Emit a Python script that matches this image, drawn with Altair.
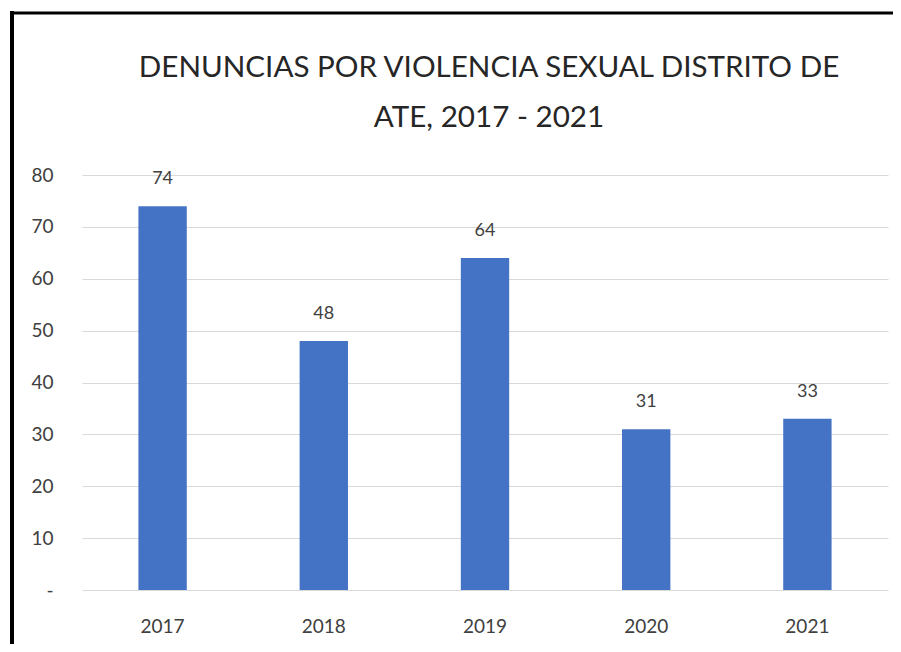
import altair as alt
import pandas as pd

# ---- data ----
years = ["2017", "2018", "2019", "2020", "2021"]
denuncias = [74, 48, 64, 31, 33]
y_ticks = [0, 10, 20, 30, 40, 50, 60, 70, 80]
title_lines = ["DENUNCIAS POR VIOLENCIA SEXUAL DISTRITO DE", "ATE, 2017 - 2021"]

df = pd.DataFrame({"anio": years, "denuncias": denuncias})
frame_df = pd.DataFrame({"k": [0]})
title_df = pd.DataFrame({"linea": title_lines, "orden": [0, 1]})

W, H = 806, 415
PAD_L, PAD_T, PAD_R, PAD_B = 74, 167, 5, 54

LABEL_FONT = "Lato"
TITLE_FONT = "Lato"
TXT = "#404040"

base = alt.Chart(df).encode(
    x=alt.X(
        "anio:N",
        sort=years,
        scale=alt.Scale(paddingInner=0.7, paddingOuter=0.35),
        axis=alt.Axis(
            title=None, labelAngle=0, domain=False, ticks=False,
            labelFontSize=19, labelPadding=27, labelColor=TXT, labelFont=LABEL_FONT,
            grid=False,
        ),
    )
)

bars = base.mark_bar(color="#4472C4").encode(
    y=alt.Y(
        "denuncias:Q",
        scale=alt.Scale(domain=[0, 80], nice=False),
        axis=alt.Axis(
            title=None, values=y_ticks, domain=False, ticks=False,
            labelFontSize=19, labelPadding=29, labelColor=TXT, labelFont=LABEL_FONT,
            labelExpr="datum.value == 0 ? '-\u00a0\u00a0\u00a0' : datum.label",
            grid=True, gridColor="#d9d9d9", gridWidth=1,
        ),
    )
)

labels = base.mark_text(
    dy=-27, baseline="middle", fontSize=18, color=TXT, font=LABEL_FONT
).encode(y=alt.Y("denuncias:Q"), text=alt.Text("denuncias:Q"))

title_line1 = alt.Chart(title_df).transform_filter("datum.orden == 0").mark_text(
    font=TITLE_FONT, fontSize=29.6, color="#262626",
    baseline="alphabetic", align="center"
).encode(text="linea:N", x=alt.value(407), y=alt.value(-98))
title_line2 = alt.Chart(title_df).transform_filter("datum.orden == 1").mark_text(
    font=TITLE_FONT, fontSize=29.6, color="#262626",
    baseline="alphabetic", align="center"
).encode(text="linea:N", x=alt.value(407), y=alt.value(-48))

frame_left = alt.Chart(frame_df).mark_rule(color="black", strokeWidth=4).encode(
    x=alt.value(-70), y=alt.value(-164), y2=alt.value(H + PAD_B)
)
frame_top = alt.Chart(frame_df).mark_rule(color="black", strokeWidth=3).encode(
    x=alt.value(-72), x2=alt.value(W + PAD_R), y=alt.value(-162)
)

chart = (
    alt.layer(frame_left, frame_top, title_line1, title_line2, bars, labels)
    .properties(
        width=W,
        height=H,
        autosize=alt.AutoSizeParams(type="none"),
        padding={"left": PAD_L, "top": PAD_T, "right": PAD_R, "bottom": PAD_B},
        background="white",
    )
    .configure_view(stroke=None)
)

chart.save("out.html", embed_options={"renderer": "svg", "actions": False})
